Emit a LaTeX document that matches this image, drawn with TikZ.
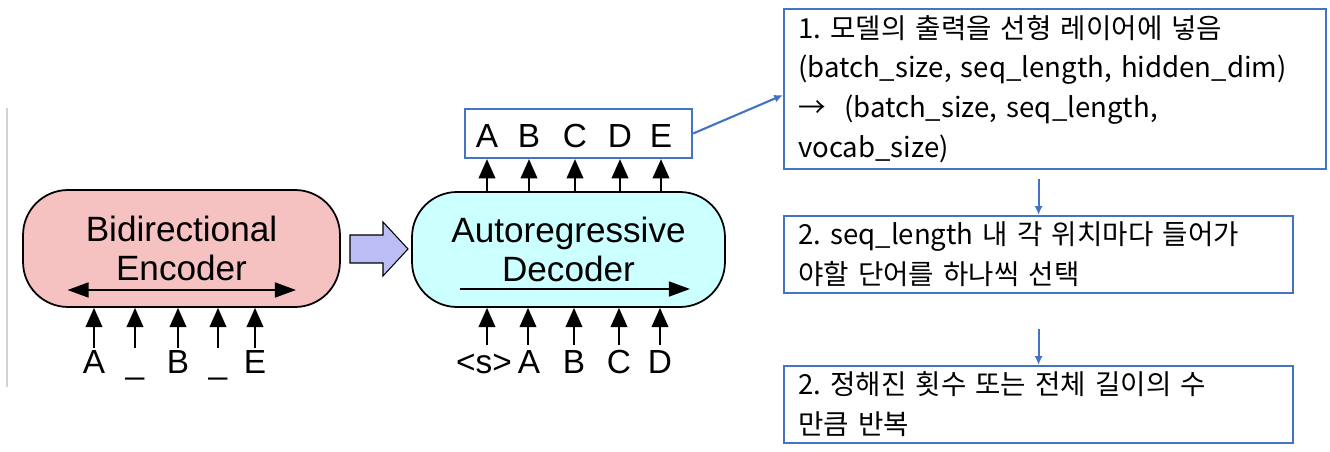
\documentclass[tikz,border=0pt]{standalone}
\usepackage{fontspec}
\setmainfont{Liberation Sans}
\newfontfamily\kofont{Noto Sans CJK KR}
\usetikzlibrary{arrows.meta,calc}
\definecolor{encpink}{HTML}{F5C2C1}
\definecolor{deccyan}{HTML}{CCFFFF}
\definecolor{blocklav}{HTML}{BDBDF5}
\definecolor{boxblue}{HTML}{4472C4}
\frenchspacing

\begin{document}
\begin{tikzpicture}[x=0.02cm, y=-0.02cm,
    block/.style={draw, line width=1pt, rounded corners=0.9cm, align=center,
        font=\fontsize{20}{22}\selectfont},
    tok/.style={font=\fontsize{19}{22}\selectfont, inner sep=1pt,
        text height=13.5pt, text depth=0pt},
    tokarrow/.style={-{Triangle[length=11pt,width=9.5pt]}, line width=1.1pt},
    innerarrow/.style={-{Triangle[length=12pt,width=8.5pt]}, line width=1.1pt},
    stepbox/.style={draw=boxblue, line width=1.3pt, anchor=north west, align=left,
        inner xsep=0.28cm, font=\kofont\fontsize{15.7}{22.7}\selectfont},
    flow/.style={-{Latex[length=5pt,width=4.5pt]}, draw=boxblue, line width=1.2pt}]

    \useasboundingbox (0,0) rectangle (1330,452);

    % 1. Thin rule on the left
    \draw[gray!35, line width=0.6pt] (7,108) -- (7,387);

    % 2. Encoder
    \node[block, fill=encpink, minimum width=6.34cm, minimum height=2.34cm] (enc)
        at (181.5,248.5) {Bidirectional\\Encoder};
    \draw[innerarrow, {Triangle[length=12pt,width=8.5pt]}-{Triangle[length=12pt,width=8.5pt]}]
        ($(enc.center)+(-114,41.5)$) -- ($(enc.center)+(114.5,41.5)$);
    \foreach \name/\x/\t in {e1/94/A, e2/135/\_, e3/178/B, e4/218/\_, e5/255/E} {
        \node[tok] (\name) at (\x,362) {\t};
        \draw[tokarrow] (\name.north) -- (enc.south -| \name);
    }

    % 3. Block arrow between encoder and decoder
    \draw[fill=blocklav, line width=0.6pt]
        (350,235) -- (383,235) -- (383,222) -- (408,249) -- (383,276) -- (383,263) -- (350,263) -- cycle;

    % 4. Decoder
    \node[block, fill=deccyan, minimum width=6.26cm, minimum height=2.3cm] (dec)
        at (568.5,249.5) {Autoregressive\\Decoder};
    \draw[innerarrow]
        ($(dec.center)+(-108.5,39.5)$) -- ($(dec.center)+(121.5,39.5)$);
    \foreach \name/\x/\t in {d1/484/{<s>}, d2/529/A, d3/574/B, d4/619/C, d5/660/D} {
        \node[tok] (\name) at (\x,362) {\t};
    }
    \foreach \name/\x in {d1/487, d2/528, d3/574, d4/619, d5/660} {
        \coordinate (\name a) at (\x,345);
        \draw[tokarrow] (\name a) -- (dec.south -| \name a);
    }

    % 5. Output tokens
    \node[draw=boxblue, line width=1.3pt, minimum width=4.54cm, minimum height=0.98cm] (obox)
        at (578.5,133.5) {};
    \foreach \name/\x/\t in {o1/487/A, o2/529/B, o3/575/C, o4/620/D, o5/661/E} {
        \node[tok] (\name) at (\x,136) {\t};
        \draw[tokarrow] (dec.north -| \name) -- (obox.south -| \name);
    }

    % 6. Steps on the right
    \node[stepbox, minimum width=10.84cm, minimum height=3.12cm, text width=10.28cm] (s1)
        at (783,8) {1. 모델의 출력을 선형 레이어에 넣음\\(batch\_size, seq\_length, hidden\_dim)\\→~~(batch\_size, seq\_length,\\vocab\_size)};
    \node[stepbox, minimum width=10.18cm, minimum height=1.48cm, text width=9.62cm] (s2)
        at (783,215) {2. seq\_length 내 각 위치마다 들어가\\야할 단어를 하나씩 선택};
    \node[stepbox, minimum width=10.18cm, minimum height=1.52cm, text width=9.62cm] (s3)
        at (783,365) {2. 정해진 횟수 또는 전체 길이의 수\\만큼 반복};

    % 7. Blue connectors
    \draw[flow] (obox.east) -- ($(s1.west)+(0,6)$);
    \draw[flow, shorten <=0.18cm] (s1.south -| s2.north) -- (s2.north);
    \draw[flow, shorten <=0.7cm] (s2.south -| s3.north) -- (s3.north);
\end{tikzpicture}
\end{document}
